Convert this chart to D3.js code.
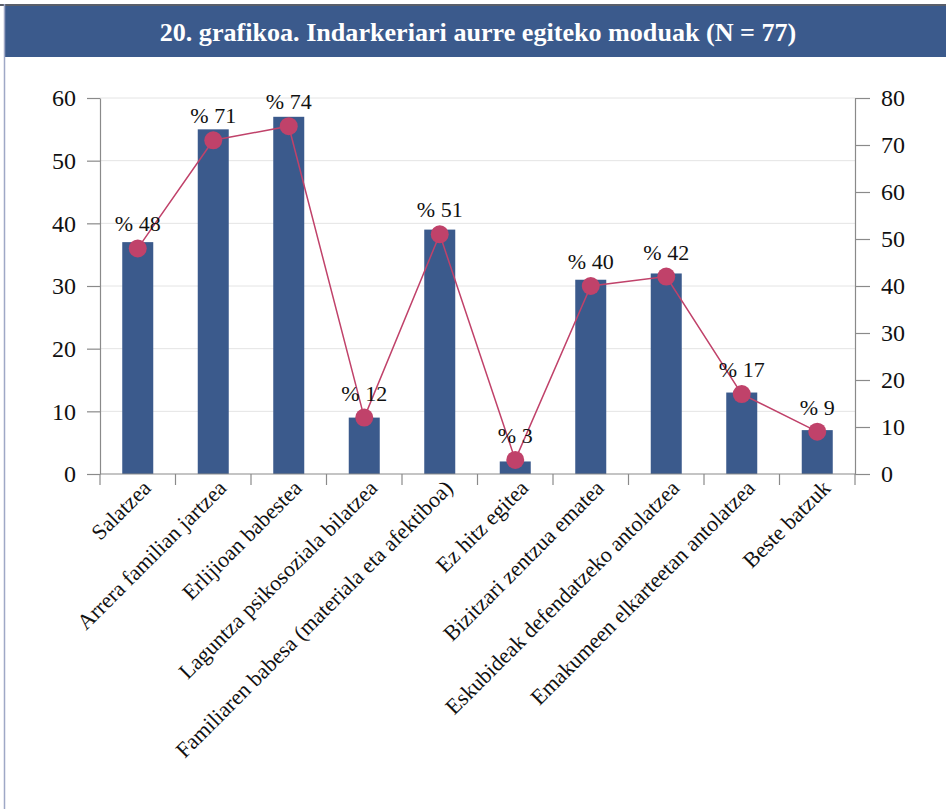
<!DOCTYPE html>
<html>
<head>
<meta charset="utf-8">
<script src="https://cdn.jsdelivr.net/npm/d3@7"></script>
<style>
  body { margin: 0; background: #fff; }
</style>
</head>
<body>
<div id="chart"></div>
<script>
// Data
var categories = [
  "Salatzea",
  "Arrera familian jartzea",
  "Erlijioan babestea",
  "Laguntza psikosoziala bilatzea",
  "Familiaren babesa (materiala eta afektiboa)",
  "Ez hitz egitea",
  "Bizitzari zentzua ematea",
  "Eskubideak defendatzeko antolatzea",
  "Emakumeen elkarteetan antolatzea",
  "Beste batzuk"
];
var counts = [37, 55, 57, 9, 39, 2, 31, 32, 13, 7];
var percents = [48, 71, 74, 12, 51, 3, 40, 42, 17, 9];
var leftTicks = [0, 10, 20, 30, 40, 50, 60];
var rightTicks = [0, 10, 20, 30, 40, 50, 60, 70, 80];
var title = "20. grafikoa. Indarkeriari aurre egiteko moduak (N = 77)";

var W = 946, H = 809;
var margin = { top: 98, left: 100, right: 91, bottom: 335 };
var width = W - margin.left - margin.right;
var height = H - margin.top - margin.bottom;

var FONT = "Liberation Serif";
var barColor = "#3b5a8c", lineColor = "#c0426a", axisColor = "#8a8a8a";

var svg = d3.select("#chart").append("svg")
    .attr("width", W)
    .attr("height", H)
    .attr("font-family", FONT);

// Panel frame + title bar
svg.append("rect").attr("x", 0).attr("y", 4).attr("width", W).attr("height", 2).attr("fill", "#5a5f6a");
svg.append("rect").attr("x", 5).attr("y", 6).attr("width", W - 5).attr("height", 51).attr("fill", barColor);
svg.append("line").attr("x1", 4.5).attr("x2", 4.5).attr("y1", 4).attr("y2", H)
    .attr("stroke", "#9fa8c6").attr("stroke-width", 1.5);
var titleText = svg.append("text")
    .attr("x", 478).attr("y", 41)
    .attr("text-anchor", "middle")
    .attr("fill", "#fff")
    .attr("font-family", FONT)
    .attr("font-size", 26)
    .attr("font-weight", "bold")
    .text(title);
// scale title font so it spans about the same width as the reference
var tl = titleText.node().getComputedTextLength();
titleText.attr("font-size", 26 * 637 / tl);

var g = svg.append("g").attr("transform", "translate(" + margin.left + "," + margin.top + ")");

var x = d3.scaleBand().domain(categories).range([0, width]).paddingInner(0).paddingOuter(0);
var yL = d3.scaleLinear().domain([0, 60]).range([height, 0]);
var yR = d3.scaleLinear().domain([0, 80]).range([height, 0]);

// Gridlines
g.selectAll(".grid").data(leftTicks.slice(1)).enter().append("line")
    .attr("x1", 0).attr("x2", width)
    .attr("y1", function(d) { return yL(d); })
    .attr("y2", function(d) { return yL(d); })
    .attr("stroke", "#e4e4e4").attr("stroke-width", 1);

// Bars
var barW = 31;
g.selectAll(".bar").data(counts).enter().append("rect")
    .attr("x", function(d, i) { return x(categories[i]) + x.bandwidth() / 2 - barW / 2; })
    .attr("y", function(d) { return yL(d); })
    .attr("width", barW)
    .attr("height", function(d) { return height - yL(d); })
    .attr("fill", barColor);

// Axes
function styleAxis(sel) {
  sel.attr("font-family", FONT).attr("font-size", 24);
  sel.select(".domain").attr("stroke", axisColor).attr("stroke-width", 1.2);
  sel.selectAll(".tick line").attr("stroke", axisColor).attr("stroke-width", 1.2);
  sel.selectAll("text").attr("fill", "#111");
}

var axL = g.append("g")
    .call(d3.axisLeft(yL).tickValues(leftTicks).tickSize(13).tickSizeOuter(0).tickPadding(11));
styleAxis(axL);

var axR = g.append("g").attr("transform", "translate(" + width + ",0)")
    .call(d3.axisRight(yR).tickValues(rightTicks).tickSize(15).tickSizeOuter(0).tickPadding(11));
styleAxis(axR);

// Bottom axis: ticks at band boundaries
var axB = g.append("g").attr("transform", "translate(0," + height + ")");
axB.append("line").attr("x1", 0).attr("x2", width).attr("stroke", axisColor).attr("stroke-width", 1.2);
axB.selectAll(".btick").data(d3.range(categories.length + 1)).enter().append("line")
    .attr("x1", function(i) { return i * x.step(); })
    .attr("x2", function(i) { return i * x.step(); })
    .attr("y1", 0).attr("y2", 11)
    .attr("stroke", axisColor).attr("stroke-width", 1.2);
axB.selectAll(".blabel").data(categories).enter().append("text")
    .attr("transform", function(d) {
      return "translate(" + (x(d) + x.bandwidth() / 2 + 9) + ",10) rotate(-45)";
    })
    .attr("text-anchor", "end")
    .attr("dy", "0.35em")
    .attr("fill", "#111")
    .attr("font-family", FONT)
    .attr("font-size", 22)
    .text(function(d) { return d; });

// Percentage line
var line = d3.line()
    .x(function(d, i) { return x(categories[i]) + x.bandwidth() / 2; })
    .y(function(d) { return yR(d); });

g.append("path").datum(percents)
    .attr("d", line)
    .attr("fill", "none")
    .attr("stroke", lineColor)
    .attr("stroke-width", 1.5);

g.selectAll(".dot").data(percents).enter().append("circle")
    .attr("cx", function(d, i) { return x(categories[i]) + x.bandwidth() / 2; })
    .attr("cy", function(d) { return yR(d); })
    .attr("r", 9)
    .attr("fill", lineColor);

g.selectAll(".plabel").data(percents).enter().append("text")
    .attr("x", function(d, i) { return x(categories[i]) + x.bandwidth() / 2; })
    .attr("y", function(d) { return yR(d) - 17; })
    .attr("text-anchor", "middle")
    .attr("fill", "#111")
    .attr("font-family", FONT)
    .attr("font-size", 22)
    .text(function(d) { return "% " + d; });
</script>
</body>
</html>
